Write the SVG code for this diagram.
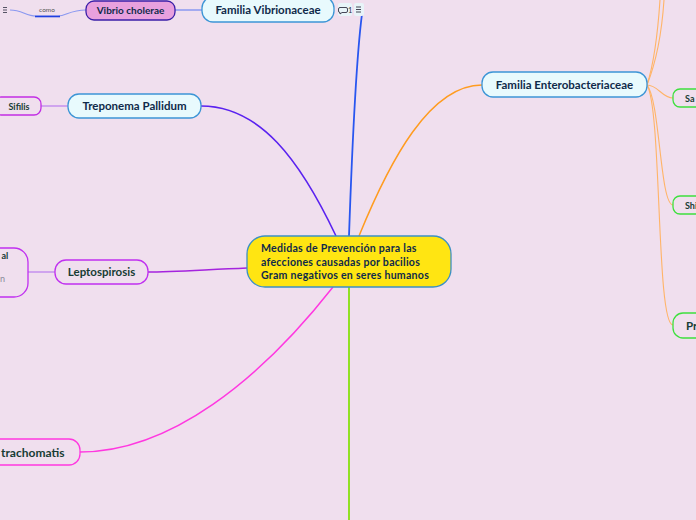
<svg xmlns="http://www.w3.org/2000/svg" width="696" height="520" viewBox="0 0 696 520">
<style>
text{font-family:Lato,"Open Sans","Liberation Sans",sans-serif;font-weight:bold;fill:#0f2a4a}
.main{fill:#e8fafd;stroke:#3c95d6;stroke-width:1.3}
.sub{fill:#f0dfee;stroke-width:1.3}
.c{fill:none}
.t{text-anchor:middle}
.g{fill:#173c34}
.ct{font-size:10.6px;letter-spacing:0.25px}
</style>
<rect width="696" height="520" fill="#f0dfee"/>
<g id="connectors">
<path class="c" d="M349,236 C352,150 356,60 362,14" stroke="#2856f0" stroke-width="1.8"/>
<path class="c" d="M336,236 C300,160 260,106 201,106" stroke="#5a22f0" stroke-width="1.6"/>
<path class="c" d="M247,268 C200,270 170,272 148,272" stroke="#a524de" stroke-width="1.6"/>
<path class="c" d="M333,287 C260,380 170,452 80,452" stroke="#ff38e0" stroke-width="1.5"/>
<path class="c" d="M349,287 L349,520" stroke="#92e024" stroke-width="2"/>
<path class="c" d="M359,236 C390,160 430,85 482,85" stroke="#ff9c20" stroke-width="1.5"/>
<path class="c" d="M175,10 L202,10" stroke="#8a98f0" stroke-width="1.5"/>
<path class="c" d="M86,10 C70,10 66,16 58,16 L36,16 C26,16 22,10 10,10" stroke="#8a98f0" stroke-width="1.2"/>
<path class="c" d="M35,16.5 L60,16.5" stroke="#2040e0" stroke-width="1.6"/>
<path class="c" d="M41,106 L68,106" stroke="#c590ee" stroke-width="1.5"/>
<path class="c" d="M28,272 L55,272" stroke="#c590ee" stroke-width="1.5"/>
<g stroke="#ffb468" stroke-width="1.1" fill="none">
<path d="M647,85 C655,60 658,30 660,0"/>
<path d="M647,85 C657,60 662,30 664,0"/>
<path d="M647,85 C658,85 662,98 673,98"/>
<path d="M647,85 C660,100 660,205 673,205"/>
<path d="M647,85 C662,110 656,325 673,325"/>
</g>
</g>
<g id="center">
<rect x="247" y="236" width="204" height="51" rx="18" fill="#ffe512" stroke="#3c90c4" stroke-width="1.3"/>
<text class="ct" x="261" y="252">Medidas de Prevención para las</text>
<text class="ct" x="261" y="265.5">afecciones causadas por bacilios</text>
<text class="ct" x="261" y="279">Gram negativos en seres humanos</text>
</g>
<g id="vibrionaceae">
<rect class="main" x="202" y="-3" width="132" height="25" rx="11"/>
<text class="t" x="268" y="14" font-size="11.5">Familia Vibrionaceae</text>
<rect x="338" y="3" width="14" height="13" rx="2" fill="#e8f4f8"/>
<path d="M340,7.5 h6 a1.5,1.5 0 0 1 1.5,1.5 v2 a1.5,1.5 0 0 1 -1.5,1.5 h-4 l-2,1.5 v-1.5 a1.5,1.5 0 0 1 -1.5,-1.5 v-2 a1.5,1.5 0 0 1 1.5,-1.5z" fill="none" stroke="#334" stroke-width="0.9"/>
<text x="348" y="13" font-size="7.5" style="fill:#334;font-weight:normal">1</text>
<rect x="354" y="3" width="10" height="13" rx="2" fill="#e8f4f8"/>
<path d="M356,7 h5 M356,9.5 h5 M356,12 h5" stroke="#334" stroke-width="0.9"/>
</g>
<g id="vibrio-cholerae">
<rect x="86" y="1" width="89" height="19" rx="8" fill="#e8a0de" stroke="#3a1fa8" stroke-width="1.3"/>
<text class="t" x="130.5" y="14" font-size="10">Vibrio cholerae</text>
</g>
<g id="como">
<text class="t" x="47" y="12" font-size="6.5" style="fill:#555;font-weight:normal">como</text>
<path d="M3,7.5 h4 M3,10 h4 M3,12.5 h4" stroke="#445" stroke-width="0.9"/>
</g>
<g id="treponema">
<rect class="main" x="68" y="94" width="133" height="24" rx="11"/>
<text class="t" x="134.5" y="110" font-size="11.5">Treponema Pallidum</text>
</g>
<g id="sifilis">
<rect class="sub" x="-6" y="97" width="47" height="18" rx="7" stroke="#c22ee4"/>
<text class="t g" x="19" y="109.5" font-size="9">Sifilis</text>
</g>
<g id="leptospirosis">
<rect class="sub" x="55" y="260" width="93" height="24" rx="11" stroke="#c030f0"/>
<text class="t g" x="101.5" y="276" font-size="11.5">Leptospirosis</text>
</g>
<g id="lepto-child">
<rect class="sub" x="-22" y="248" width="50" height="49" rx="14" stroke="#c030f0"/>
<text class="g" x="1.5" y="259" font-size="9">al</text>
<text x="0" y="282" font-size="9" style="fill:#8a8a9a;font-weight:normal">n</text>
</g>
<g id="trachomatis">
<rect class="sub" x="-20" y="439" width="100" height="26" rx="11" stroke="#ff38e0"/>
<text class="g" x="1" y="457" font-size="12">trachomatis</text>
</g>
<g id="enterobacteriaceae">
<rect class="main" x="482" y="72" width="165" height="25" rx="11"/>
<text class="t" x="564.5" y="89" font-size="11.5">Familia Enterobacteriaceae</text>
</g>
<g id="sa">
<rect class="sub" x="673" y="89" width="40" height="18" rx="7" stroke="#3ee03e"/>
<text class="g" x="685" y="102" font-size="9">Sa</text>
</g>
<g id="shi">
<rect class="sub" x="673" y="196" width="40" height="18" rx="7" stroke="#3ee03e"/>
<text class="g" x="685" y="209" font-size="9">Shi</text>
</g>
<g id="pr">
<rect class="sub" x="673" y="313" width="40" height="25" rx="10" stroke="#3ee03e"/>
<text class="g" x="686" y="330" font-size="11.5">Pr</text>
</g>
</svg>
